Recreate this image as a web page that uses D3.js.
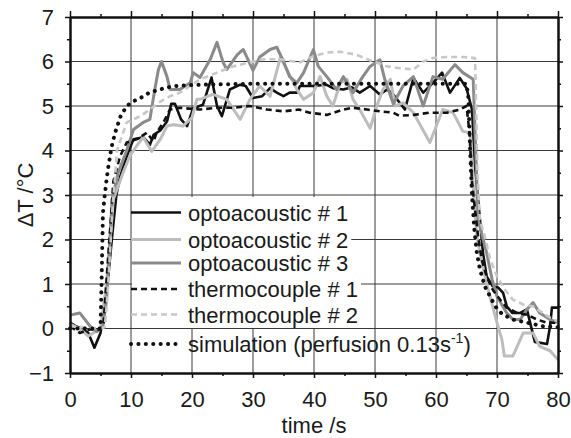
<!DOCTYPE html>
<html>
<head>
<meta charset="utf-8">
<script src="https://cdn.jsdelivr.net/npm/d3@7"></script>
<style>
  body { margin: 0; background: #fff; }
  svg text { font-family: "Liberation Sans", Arial, sans-serif; fill: #1a1a1a; }
</style>
</head>
<body>
<svg id="chart" width="571" height="438"></svg>
<script>
// [time s, deltaT °C]
var opto1 = [[0,0.13],[1,0.05],[2.1,-0.02],[3,-0.1],[4,-0.43],[5,-0.1],[6,0.8],[7,2.2],[7.6,3.0],[8.2,3.4],[9.3,3.87],[10.4,4.25],[12,4.3],[13.1,4.13],[13.7,4.35],[14.8,4.45],[15.9,4.65],[16.6,5.05],[17.2,5.05],[18.2,4.7],[19.2,4.55],[20.2,4.95],[21.8,5.03],[23.2,5.64],[24.1,5.0],[24.9,4.77],[26.2,5.37],[27.9,5.48],[28.8,5.45],[30,5.18],[31.5,5.22],[32.8,5.4],[33.9,5.3],[35,5.22],[36,5.3],[37.2,5.3],[37.7,5.45],[39.9,5.45],[42,5.48],[43.1,5.4],[44.8,5.37],[46.2,5.42],[47.5,5.3],[49.2,5.45],[50.8,5.26],[52,5.37],[53,5.26],[54.9,4.92],[56.3,5.63],[57.9,5.3],[59.5,5.52],[61,5.75],[62.3,5.3],[63.9,5.63],[65,5.4],[65.9,4.92],[66.4,3.65],[67.2,2.45],[67.7,1.7],[68.3,1.17],[69.3,0.95],[70.2,0.92],[71,0.8],[71.6,0.5],[72.5,0.35],[73.8,0.35],[74.9,0.43],[75.7,-0.02],[76.2,-0.3],[78.2,-0.35],[78.7,0.05],[79,0.47],[80,0.47]];
var opto2 = [[0,0.1],[1.5,0],[3,-0.17],[5,0],[6,1.0],[7.1,2.9],[8.7,3.5],[9.8,3.87],[10.9,4.1],[12,4.3],[13.4,3.98],[14.8,4.25],[15.9,4.55],[16.9,4.58],[18.5,4.55],[20,4.74],[20.8,5.15],[21.3,5.15],[23.4,5.26],[25.7,5.15],[27.9,4.7],[29.5,5.15],[31.1,5.45],[32.8,5.22],[34.5,6.1],[35.6,5.8],[37.2,5.37],[38.3,5.15],[39.9,5.3],[41,5.66],[42.1,5.22],[43.1,5.0],[44.3,5.52],[45.4,5.6],[46.4,5.15],[47.5,4.92],[49.2,4.5],[50.3,5.0],[51.3,5.37],[52.5,5.6],[53.3,5.0],[54.6,5.07],[56.3,4.85],[59,4.18],[61.1,4.92],[62.8,4.85],[64.4,4.43],[65.6,4.4],[66.2,3.0],[66.7,2.07],[67.2,1.7],[68.4,0.95],[70,0.13],[70.8,-0.25],[71.2,-0.62],[72.6,-0.62],[74.3,-0.1],[75.9,-0.1],[77,-0.4],[78.7,-0.5],[80,-0.7]];
var opto3 = [[0,0.3],[1.6,0.35],[3.3,0.05],[4.4,-0.07],[5.4,0.05],[6,0.65],[6.9,2.9],[7.9,3.5],[9.3,4.0],[10.4,4.47],[12,4.63],[13.1,4.7],[13.9,5.37],[14.5,5.82],[15,6.0],[15.9,5.66],[16.4,5.37],[18,5.37],[19.7,5.52],[20.2,5.75],[21.3,5.64],[23,6.05],[24.1,6.43],[25.1,5.98],[25.7,5.82],[27.4,6.15],[28.4,6.27],[30,5.8],[31.1,6.1],[32.8,6.27],[33.9,6.32],[35,6.0],[36,5.66],[37.2,5.52],[38.3,5.75],[39.9,6.27],[40.7,5.89],[42.1,5.66],[43.7,5.37],[44.8,5.66],[46.4,5.3],[48,5.66],[49.2,5.89],[50.8,6.04],[51.6,5.6],[53,5.05],[54.6,5.45],[56.3,5.66],[57.9,5.0],[59.5,5.66],[61.1,5.6],[63.1,5.93],[64.4,5.75],[66.1,5.6],[66.9,2.45],[68.3,1.7],[69.2,1.1],[70,0.72],[71.6,0.35],[72.6,0.2],[73.8,0.2],[74.9,0.43],[75.9,0.58],[77,0.35],[78.7,0.2],[80,0.13]];
var thermo1 = [[0,0.05],[1.6,-0.1],[3.3,-0.02],[5,-0.02],[5.5,0.1],[6.2,1.5],[6.7,2.45],[7.1,3.3],[8.2,3.87],[9.3,4.18],[10.9,4.25],[12.6,4.4],[13.7,4.2],[14.2,4.4],[15.3,4.63],[16.4,4.92],[18,4.96],[21.3,4.92],[24.1,4.96],[26.7,4.96],[29.5,5.0],[32.3,4.92],[35,4.88],[37.5,4.92],[39.3,4.85],[42.1,4.8],[44.8,4.92],[46.4,4.96],[48.7,4.92],[50.8,4.88],[53,4.85],[54,4.78],[56.3,4.8],[59,4.85],[61.8,4.85],[63.9,4.92],[65,5.0],[65.5,4.4],[65.9,3.28],[66.9,2.07],[67.5,1.55],[68.3,1.17],[69.3,0.87],[70.5,0.65],[71.6,0.47],[73.3,0.35],[74.9,0.31],[76.6,0.2],[78.2,0.13],[80,0.13]];
var thermo2 = [[0,0.05],[2,0.03],[4.9,0],[5.7,0.03],[6,0.5],[6.3,1.1],[6.6,1.8],[7.0,2.8],[7.4,3.4],[7.7,4.0],[9.3,4.63],[11.5,4.77],[13.1,4.92],[14.8,5.1],[16.4,5.22],[18,5.3],[19.7,5.45],[21.3,5.6],[22.5,5.66],[24.1,5.75],[26.7,5.89],[29.5,5.98],[31.6,6.05],[34.4,6.05],[37.7,5.98],[39.9,6.12],[42.1,6.2],[44.3,6.22],[47,6.15],[49.7,6.0],[52,5.89],[54.1,5.85],[56.3,5.82],[57.9,6.0],[59.5,6.08],[61.8,6.1],[64.4,6.1],[66.4,6.08],[66.5,5.5],[66.8,3.5],[67.2,2.45],[68,2.07],[68.9,1.55],[70,1.17],[71.3,0.87],[72.6,0.65],[74.3,0.54],[75.9,0.5],[77.5,0.35],[79.2,0.2],[80,0.17]];
var simulation = [[0,0],[5,0],[5.2,1.2],[5.4,2.6],[5.7,3.0],[6.0,3.35],[6.3,3.65],[6.8,4.07],[7.4,4.4],[8.3,4.77],[9.3,5.0],[10.3,5.1],[11.8,5.2],[13,5.3],[14.2,5.35],[16,5.42],[18,5.46],[22,5.48],[30,5.5],[40,5.5],[50,5.5],[60,5.5],[65,5.5],[65.3,5.2],[65.6,4.0],[65.9,3.0],[66.3,2.2],[66.7,1.7],[67.2,1.33],[68,0.95],[69.7,0.5],[70.8,0.33],[72.6,0.2],[75,0.13],[77.5,0.05],[80,0.03]];

var xMajor = [0, 10, 20, 30, 40, 50, 60, 70, 80];
var xMinor = [5, 15, 25, 35, 45, 55, 65, 75];
var yMajor = [-1, 0, 1, 2, 3, 4, 5, 6, 7];
var yMinor = [-0.5, 0.5, 1.5, 2.5, 3.5, 4.5, 5.5, 6.5];

var seriesNames = ["optoacoustic # 1", "optoacoustic # 2", "optoacoustic # 3",
                   "thermocouple # 1", "thermocouple # 2", "simulation"];

var series = [
    {"name": seriesNames[0], "data": opto1, "color": "#111", "width": 2.6, "dash": null},
    {"name": seriesNames[1], "data": opto2, "color": "#bdbdbd", "width": 3, "dash": null},
    {"name": seriesNames[2], "data": opto3, "color": "#8a8a8a", "width": 3, "dash": null},
    {"name": seriesNames[3], "data": thermo1, "color": "#111", "width": 2.6, "dash": "6 4"},
    {"name": seriesNames[4], "data": thermo2, "color": "#c8c8c8", "width": 2.6, "dash": "6 4"},
    {"name": seriesNames[5], "data": simulation, "color": "#111", "width": 4, "dash": "0.1 7.3"}
];

var svg = d3.select("#chart");
var plotLeft = 70, plotRight = 558, plotTop = 17, plotBottom = 373;

var x = d3.scaleLinear().domain([0, 80]).range([plotLeft, plotRight]);
var y = d3.scaleLinear().domain([-1, 7]).range([plotBottom, plotTop]);

// grid
svg.append("g").selectAll("line")
    .data(xMajor.slice(1, -1)).enter().append("line")
    .attr("x1", (d) => x(d)).attr("x2", (d) => x(d))
    .attr("y1", plotTop).attr("y2", plotBottom)
    .attr("stroke", "#3a3a3a").attr("stroke-width", 1);
svg.append("g").selectAll("line")
    .data(yMajor.slice(1, -1)).enter().append("line")
    .attr("y1", (d) => y(d)).attr("y2", (d) => y(d))
    .attr("x1", plotLeft).attr("x2", plotRight)
    .attr("stroke", "#3a3a3a").attr("stroke-width", 1);

// curves
var line = d3.line().x((d) => x(d[0])).y((d) => y(d[1]));
svg.append("g").selectAll("path")
    .data(series).enter().append("path")
    .attr("d", (d) => line(d.data))
    .attr("fill", "none")
    .attr("stroke", (d) => d.color)
    .attr("stroke-width", (d) => d.width)
    .attr("stroke-dasharray", (d) => d.dash)
    .attr("stroke-linecap", (d) => d.name == "simulation" ? "round" : "butt")
    .attr("stroke-linejoin", "round");

// axes
function styleAxis(g) {
    g.select(".domain").attr("stroke", "#111").attr("stroke-width", 2);
    g.selectAll(".tick line").attr("stroke", "#111").attr("stroke-width", 1.5);
    g.selectAll("text").attr("font-size", "22px").attr("fill", "#1a1a1a")
        .attr("font-family", "'Liberation Sans', Arial, sans-serif");
}
var noLabel = () => "";

svg.append("g").attr("transform", "translate(0," + plotBottom + ")")
    .call(d3.axisBottom(x).tickValues(xMajor).tickSize(5).tickPadding(13).tickSizeOuter(0))
    .call(styleAxis);
svg.append("g").attr("transform", "translate(0," + plotBottom + ")")
    .call(d3.axisBottom(x).tickValues(xMinor).tickSize(3).tickFormat(noLabel).tickSizeOuter(0))
    .call(styleAxis);
svg.append("g").attr("transform", "translate(0," + plotTop + ")")
    .call(d3.axisTop(x).tickValues(xMajor).tickSize(6).tickFormat(noLabel).tickSizeOuter(0))
    .call(styleAxis);
svg.append("g").attr("transform", "translate(0," + plotTop + ")")
    .call(d3.axisTop(x).tickValues(xMinor).tickSize(3).tickFormat(noLabel).tickSizeOuter(0))
    .call(styleAxis);
svg.append("g").attr("transform", "translate(" + plotLeft + ",0)")
    .call(d3.axisLeft(y).tickValues(yMajor).tickSize(5).tickPadding(11).tickSizeOuter(0))
    .call(styleAxis);
svg.append("g").attr("transform", "translate(" + plotLeft + ",0)")
    .call(d3.axisLeft(y).tickValues(yMinor).tickSize(3).tickFormat(noLabel).tickSizeOuter(0))
    .call(styleAxis);
svg.append("g").attr("transform", "translate(" + plotRight + ",0)")
    .call(d3.axisRight(y).tickValues(yMajor).tickSize(5).tickFormat(noLabel).tickSizeOuter(0))
    .call(styleAxis);
svg.append("g").attr("transform", "translate(" + plotRight + ",0)")
    .call(d3.axisRight(y).tickValues(yMinor).tickSize(3).tickFormat(noLabel).tickSizeOuter(0))
    .call(styleAxis);

// axis titles
svg.append("text")
    .attr("transform", "translate(33," + ((plotTop + plotBottom) / 2) + ") rotate(-90)")
    .attr("text-anchor", "middle")
    .attr("font-size", "22px")
    .text("\u0394T /\u00b0C");
svg.append("text")
    .attr("x", (plotLeft + plotRight) / 2).attr("y", 433)
    .attr("text-anchor", "middle")
    .attr("font-size", "22px")
    .text("time /s");

// legend
var legendRows = [212.5, 239.5, 263, 289, 314.5, 344];
var rowEdges = [197, 226, 251, 276, 302, 328];
var legend = svg.append("g");
series.forEach(function (s, i) {
    var row = legend.append("g");
    var bg = row.append("rect").attr("fill", "#fff");
    row.append("line")
        .attr("x1", 131).attr("x2", 181)
        .attr("y1", legendRows[i]).attr("y2", legendRows[i])
        .attr("stroke", s.color)
        .attr("stroke-width", s.width)
        .attr("stroke-dasharray", s.dash)
        .attr("stroke-linecap", s.name == "simulation" ? "round" : "butt");
    var t = row.append("text")
        .attr("x", 188).attr("y", legendRows[i] + 8)
        .attr("font-size", "22px");
    if (s.name == "simulation") {
        t.append("tspan").text("simulation (perfusion 0.13s");
        t.append("tspan").attr("dy", -9).attr("font-size", "14px").text("-1");
        t.append("tspan").attr("dy", 9).text(")");
    } else {
        t.text(s.name);
        var w = t.node().getComputedTextLength();
        bg.attr("x", 132).attr("width", 188 + w + 3 - 132)
            .attr("y", rowEdges[i]).attr("height", rowEdges[i + 1] - rowEdges[i]);
    }
});
</script>
</body>
</html>
